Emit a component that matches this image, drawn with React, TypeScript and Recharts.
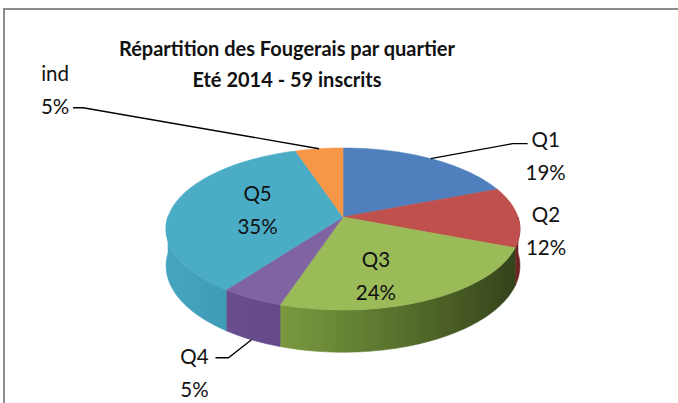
import React from "react";
import { PieChart, Pie, Cell } from "recharts";

// répartition par quartier (en %)
const quartiers = ["Q1", "Q2", "Q3", "Q4", "Q5", "ind"];
const parts = [19, 12, 24, 5, 35, 5];

const topColors = ["#4f80bd", "#c0504d", "#9bbb59", "#8064a2", "#4bacc6", "#f79646"];
const wallStops: [number, string][][] = [
  [[0, "#3d6799"], [1, "#2a4a70"]],
  [[0, "#a8423f"], [0.8, "#8a3331"], [1, "#6e2624"]],
  [[0, "#8aab4a"], [0.3, "#7d9c40"], [0.55, "#637f33"], [0.8, "#4a5e25"], [1, "#33421a"]],
  [[0, "#6d5193"], [0.3, "#654a8a"], [1, "#4a3766"]],
  [[0, "#45a5c1"], [0.3, "#3a94ae"], [1, "#2a6f83"]],
  [[0, "#d97f35"], [1, "#a85f22"]],
];

const data = quartiers.map((name, i) => ({ name, value: parts[i] }));

const CX = 343;
const CY = 217;
const R = 175;
const TILT = 0.4526; // vertical squash of the disc
const PERSP = 0.148; // far side smaller than near side
const DEPTH = 36;

const FONT = "Lato, 'Open Sans', sans-serif";

// outside / inside label placement, relative to the anchor on the disc
const LABEL_LAYOUT: Record<string, { f: number; drop: number; dx: number; dy: number; line?: number[][] }> = {
  Q1: { f: 1, drop: 0, dx: 115, dy: -12, line: [[-33, -3], [-18, -3]] },
  Q2: { f: 1, drop: 0, dx: 28, dy: 5 },
  Q3: { f: 0.5, drop: 0, dx: -7, dy: 12 },
  Q4: { f: 1, drop: DEPTH, dx: -57, dy: 24, line: [[34, -6], [21, -6]] },
  Q5: { f: 0.5, drop: 0, dx: 0, dy: -10 },
  ind: { f: 1, drop: 0, dx: -264, dy: -68, line: [[28, 27], [18, 27]] },
};

function project(cx: number, cy: number, r: number, angle: number, f = 1, drop = 0) {
  const rad = (angle * Math.PI) / 180;
  const u = Math.cos(rad) * f;
  const v = -Math.sin(rad) * f;
  const w = 1 - PERSP * v;
  return [cx + (r * u) / w, cy + (r * TILT * v) / w + drop / w];
}

function arc(cx: number, cy: number, r: number, a0: number, a1: number, drop = 0) {
  const n = Math.max(2, Math.ceil(Math.abs(a1 - a0) / 1.5));
  const pts: number[][] = [];
  for (let i = 0; i <= n; i++) {
    pts.push(project(cx, cy, r, a0 + ((a1 - a0) * i) / n, 1, drop));
  }
  return pts;
}

const toPath = (pts: number[][]) =>
  pts.map((p, i) => `${i ? "L" : "M"}${p[0].toFixed(2)},${p[1].toFixed(2)}`).join(" ") + " Z";

function TopFace(props: any) {
  const { cx, cy, outerRadius, startAngle, endAngle, fill } = props;
  const pts = [[cx, cy], ...arc(cx, cy, outerRadius, startAngle, endAngle)];
  return <path d={toPath(pts)} fill={fill} stroke={fill} strokeWidth={0.6} />;
}

function Wall(props: any) {
  const { cx, cy, outerRadius, startAngle, endAngle, index } = props;
  const lo = Math.max(Math.min(startAngle, endAngle), -180);
  const hi = Math.min(Math.max(startAngle, endAngle), 0);
  if (hi <= lo) return <g />;
  const top = arc(cx, cy, outerRadius, hi, lo);
  const bottom = arc(cx, cy, outerRadius, lo, hi, DEPTH);
  const id = `wall-grad-${index}`;
  return (
    <g>
      <defs>
        <linearGradient id={id} gradientUnits="userSpaceOnUse" x1={cx - outerRadius} x2={cx + outerRadius} y1={0} y2={0}>
          {wallStops[index].map(([o, c]) => (
            <stop key={o} offset={o} stopColor={c} />
          ))}
        </linearGradient>
      </defs>
      <path d={toPath([...top, ...bottom])} fill={`url(#${id})`} stroke={`url(#${id})`} strokeWidth={0.6} />
    </g>
  );
}

function renderLabel(props: any) {
  const { cx, cy, midAngle, outerRadius, index, percent } = props;
  const name = quartiers[index];
  const lay = LABEL_LAYOUT[name];
  const [px, py] = project(cx, cy, outerRadius, midAngle, lay.f, lay.drop);
  const tx = px + lay.dx;
  const ty = py + lay.dy;
  const pts = lay.line ? [[px, py], ...lay.line.map(([lx, ly]) => [tx + lx, ty + ly])] : null;
  return (
    <g key={`lbl-${index}`}>
      {pts && (
        <polyline points={pts.map((p) => p.join(",")).join(" ")} fill="none" stroke="#000" strokeWidth={1.3} />
      )}
      <text x={tx} y={ty} textAnchor="middle" fontFamily={FONT} fontSize={20.5} fill="#111">
        {name}
      </text>
      <text x={tx} y={ty + 33} textAnchor="middle" fontFamily={FONT} fontSize={20.5} fill="#111">
        {`${Math.round(percent * 100)}%`}
      </text>
    </g>
  );
}

export default function App() {
  return (
    <div style={{ position: "fixed", left: 0, top: 0, width: 678, height: 403, background: "#fff", overflow: "hidden" }}>
      <div
        style={{
          position: "absolute",
          left: 3,
          top: 8,
          width: 720,
          height: 440,
          borderLeft: "2px solid #8c8c8c",
          borderTop: "2px solid #8c8c8c",
        }}
      />
      <div style={{ position: "absolute", left: 0, top: 0 }}>
        <PieChart width={678} height={403} margin={{ top: 0, right: 0, bottom: 0, left: 0 }}>
          <text x={287} y={56} textAnchor="middle" fontFamily={FONT} fontWeight="bold" fontSize={20} fill="#111">
            Répartition des Fougerais par quartier
          </text>
          <text x={287} y={87} textAnchor="middle" fontFamily={FONT} fontWeight="bold" fontSize={20} fill="#111">
            Eté 2014 - 59 inscrits
          </text>
          <Pie
            data={data}
            dataKey="value"
            nameKey="name"
            cx={CX}
            cy={CY}
            outerRadius={R}
            startAngle={90}
            endAngle={-270}
            shape={Wall}
            label={false}
            labelLine={false}
            isAnimationActive={false}
          >
            {data.map((d, i) => (
              <Cell key={d.name} fill={wallStops[i][0][1]} />
            ))}
          </Pie>
          <Pie
            data={data}
            dataKey="value"
            nameKey="name"
            cx={CX}
            cy={CY}
            outerRadius={R}
            startAngle={90}
            endAngle={-270}
            shape={TopFace}
            label={renderLabel}
            labelLine={false}
            isAnimationActive={false}
          >
            {data.map((d, i) => (
              <Cell key={d.name} fill={topColors[i]} />
            ))}
          </Pie>
        </PieChart>
      </div>
    </div>
  );
}
